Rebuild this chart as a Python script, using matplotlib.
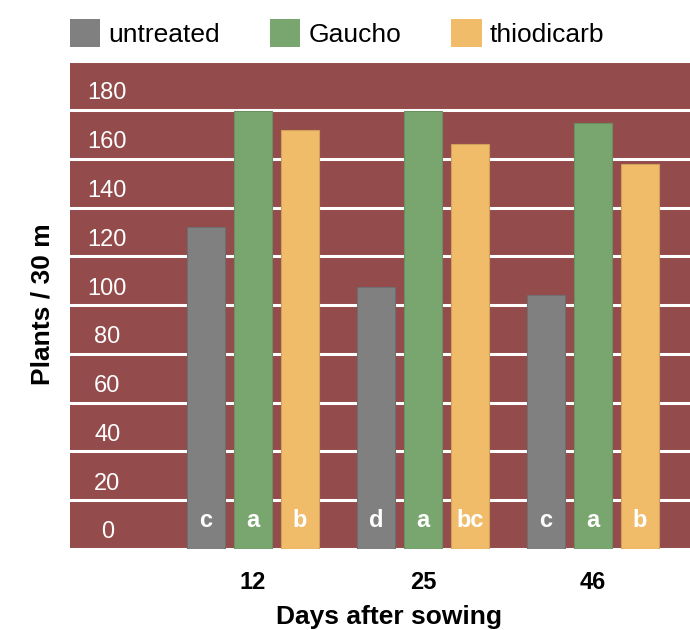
import matplotlib
matplotlib.use("Agg")
import matplotlib.pyplot as plt
from matplotlib.patches import Patch
import numpy as np

plt.rcParams['font.family'] = ['Liberation Sans', 'DejaVu Sans']

# data
days = ["12", "25", "46"]
series = ["untreated", "Gaucho", "thiodicarb"]
untreated = [132, 107.5, 104]
gaucho = [179.5, 179.5, 174.5]
thiodicarb = [172, 166, 158]
letters_untreated = ["c", "d", "c"]
letters_gaucho = ["a", "a", "a"]
letters_thiodicarb = ["b", "bc", "b"]
yticks = list(range(0, 181, 20))

colors = ["#808081", "#79a66e", "#f0bc69"]
edges = ["#6e6e70", "#6a8f60", "#cfa05a"]
bg = "#944b4b"

fig = plt.figure(figsize=(6.9, 6.3), dpi=100)
ax = fig.add_axes([70/690, 81/630, 620/690, 489/630])
ax.set_facecolor(bg)

x = np.arange(len(days))
step = 0.276
width = 0.22
all_vals = [untreated, gaucho, thiodicarb]
all_letters = [letters_untreated, letters_gaucho, letters_thiodicarb]
for i, (vals, lets) in enumerate(zip(all_vals, all_letters)):
    pos = x + (i - 1) * step
    ax.bar(pos, vals, width, color=colors[i], edgecolor=edges[i], linewidth=0.8, zorder=3)
    for p, t in zip(pos, lets):
        ax.text(p, 11.5, t, ha="center", va="center", color="white",
                fontsize=17, fontweight="bold", zorder=4)

ax.set_xlim(-1.076, 2.57)
ax.set_ylim(0, 200.5)
ax.set_yticks(list(range(0, 201, 20)))
ax.yaxis.grid(True, color="white", linewidth=2.2, zorder=1)
ax.set_axisbelow(True)
ax.tick_params(axis="y", length=0, labelleft=False)
for v in yticks:
    ax.text(0.06, v + 6.8, str(v), transform=ax.get_yaxis_transform(),
            ha="center", va="center", color="white", fontsize=17, zorder=2)

ax.set_xticks(x)
ax.set_xticklabels(days, fontsize=17, fontweight="bold")
ax.tick_params(axis="x", length=0, pad=16)
for s in ax.spines.values():
    s.set_visible(False)

ax.set_xlabel("Days after sowing", fontsize=19, fontweight="bold", labelpad=8)
ax.xaxis.label.set_x((389 - 70) / 620)
ax.set_ylabel("Plants / 30 m", fontsize=19, fontweight="bold", labelpad=11)

handles = [Patch(facecolor=c, edgecolor="none") for c in colors]
fig.legend(handles, series, loc="center left", bbox_to_anchor=(70/690, 1 - 33/630),
           ncol=3, frameon=False, fontsize=19, borderpad=0, borderaxespad=0,
           handlelength=1.15, handleheight=1.25, handletextpad=0.3, columnspacing=1.9)

fig.savefig("out.png", dpi=100)
